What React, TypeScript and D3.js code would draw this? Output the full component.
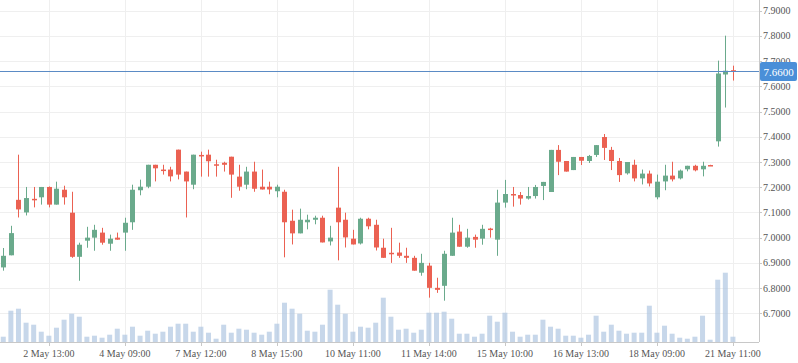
import * as d3 from 'd3';
import React from 'react';

// candle data, one entry per bar (index based x axis)
const opens = [
  6.882, 6.93, 7.15, 7.1, 7.154, 7.16, 7.201, 7.131, 7.19, 7.099,
  6.924, 6.988, 7.0, 7.02, 6.976, 7.0, 7.02, 7.061, 7.188, 7.202,
  7.289, 7.27, 7.27, 7.349, 7.262, 7.21, 7.328, 7.329, 7.291, 7.297,
  7.321, 7.242, 7.21, 7.262, 7.202, 7.202, 7.184, 7.182, 7.067, 7.017,
  7.061, 7.071, 7.079, 6.985, 7.119, 7.071, 6.996, 6.977, 7.075, 7.051,
  6.96, 6.94, 6.941, 6.928, 6.92, 6.861, 6.889, 6.801, 6.809, 6.928,
  7.024, 6.964, 7.003, 6.996, 7.036, 6.992, 7.139, 7.173, 7.169, 7.155,
  7.165, 7.205, 7.181, 7.348, 7.304, 7.268, 7.32, 7.304, 7.328, 7.399,
  7.348, 7.304, 7.255, 7.289, 7.235, 7.254, 7.16, 7.223, 7.246, 7.235,
  7.271, 7.285, 7.271, 7.288, 7.382, 7.647, 7.664,
];
const highs = [
  6.959, 7.047, 7.329, 7.201, 7.201, 7.201, 7.203, 7.222, 7.206, 7.182,
  6.98, 7.043, 7.051, 7.039, 7.012, 7.02, 7.079, 7.21, 7.23, 7.289,
  7.289, 7.289, 7.281, 7.349, 7.262, 7.329, 7.341, 7.349, 7.309, 7.301,
  7.321, 7.289, 7.281, 7.301, 7.27, 7.222, 7.21, 7.19, 7.111, 7.115,
  7.091, 7.087, 7.087, 7.047, 7.281, 7.099, 7.031, 7.079, 7.079, 7.071,
  6.996, 7.039, 6.98, 6.96, 6.928, 6.936, 6.9, 6.841, 6.948, 7.079,
  7.051, 7.035, 7.012, 7.051, 7.039, 7.19, 7.229, 7.201, 7.181, 7.201,
  7.209, 7.221, 7.348, 7.367, 7.304, 7.32, 7.32, 7.328, 7.367, 7.411,
  7.36, 7.316, 7.3, 7.309, 7.27, 7.266, 7.25, 7.289, 7.301, 7.27,
  7.285, 7.289, 7.301, 7.289, 7.702, 7.801, 7.682,
];
const lows = [
  6.869, 6.93, 7.08, 7.088, 7.12, 7.131, 7.12, 7.131, 7.131, 6.92,
  6.829, 6.96, 6.948, 6.972, 6.948, 6.992, 6.948, 7.031, 7.168, 7.196,
  7.223, 7.25, 7.223, 7.231, 7.08, 7.192, 7.242, 7.242, 7.242, 7.262,
  7.158, 7.186, 7.192, 7.182, 7.191, 7.172, 7.16, 6.922, 6.973, 7.017,
  7.033, 7.053, 6.981, 6.969, 6.91, 6.961, 6.973, 6.973, 7.033, 6.949,
  6.92, 6.9, 6.92, 6.9, 6.869, 6.849, 6.762, 6.781, 6.75, 6.928,
  6.964, 6.96, 6.96, 6.972, 7.0, 6.928, 7.119, 7.123, 7.131, 7.151,
  7.155, 7.149, 7.181, 7.248, 7.262, 7.268, 7.288, 7.296, 7.32, 7.308,
  7.268, 7.221, 7.25, 7.223, 7.211, 7.203, 7.152, 7.188, 7.223, 7.231,
  7.263, 7.263, 7.243, 7.286, 7.361, 7.516, 7.623,
];
const closes = [
  6.928, 7.018, 7.112, 7.157, 7.152, 7.201, 7.131, 7.194, 7.16, 6.924,
  6.972, 7.0, 7.031, 6.98, 6.996, 6.992, 7.059, 7.19, 7.202, 7.289,
  7.275, 7.268, 7.243, 7.25, 7.223, 7.329, 7.325, 7.303, 7.289, 7.289,
  7.25, 7.202, 7.262, 7.194, 7.191, 7.191, 7.202, 7.061, 7.017, 7.071,
  7.071, 7.079, 6.981, 7.0, 7.061, 7.001, 6.973, 7.075, 7.045, 6.961,
  6.92, 6.938, 6.928, 6.92, 6.869, 6.9, 6.801, 6.793, 6.936, 7.02,
  6.964, 7.0, 6.992, 7.035, 7.033, 7.139, 7.173, 7.171, 7.155, 7.165,
  7.201, 7.221, 7.348, 7.301, 7.262, 7.32, 7.305, 7.324, 7.367, 7.356,
  7.304, 7.248, 7.3, 7.235, 7.254, 7.215, 7.222, 7.246, 7.231, 7.266,
  7.285, 7.267, 7.285, 7.287, 7.651, 7.662, 7.66,
];
const volumes = [
  53, 313, 333, 193, 173, 103, 63, 143, 223, 283,
  253, 53, 63, 43, 73, 133, 73, 153, 63, 113,
  83, 103, 153, 183, 183, 103, 153, 93, 33, 173,
  93, 133, 123, 93, 73, 103, 183, 393, 333, 283,
  113, 103, 173, 523, 373, 283, 103, 153, 143, 193,
  443, 253, 123, 133, 93, 123, 293, 293, 303, 233,
  83, 83, 53, 83, 263, 203, 293, 103, 53, 73,
  73, 223, 153, 133, 63, 63, 43, 73, 263, 103,
  173, 113, 83, 93, 93, 363, 93, 163, 83, 43,
  33, 53, 263, 23, 623, 693, 53,
];

const tickIndex = [6, 16, 26, 36, 46, 56, 66, 76, 86, 96];
const tickLabels = [
  '2 May 13:00', '4 May 09:00', '7 May 12:00', '8 May 15:00', '10 May 11:00',
  '11 May 14:00', '15 May 10:00', '16 May 13:00', '18 May 09:00', '21 May 11:00',
];
const priceTicks = [6.7, 6.8, 6.9, 7.0, 7.1, 7.2, 7.3, 7.4, 7.5, 7.6, 7.7, 7.8, 7.9];
const lastPrice = 7.66;

const W = 798;
const H = 363;
const plotRight = 759;
const plotBottom = 342;
const green = '#6aaa8c';
const red = '#eb6152';
const font = '"Liberation Serif", "Times New Roman", serif';

export default function App() {
  const x = d3.scaleLinear().domain([-0.43, 99.43]).range([0, plotRight]);
  const y = d3.scaleLinear().domain([6.7, 7.9]).range([313.3, 10.7]);
  const yVol = d3.scaleLinear().domain([0, 1000]).range([plotBottom, plotBottom - 100]);

  const bodyW = 5;
  const yLast = Math.round(y(lastPrice)) + 0.5;

  return (
    <div style={{ position: 'absolute', left: 0, top: 0 }}>
      <svg width={W} height={H} style={{ display: 'block' }}>
        <rect width={W} height={H} fill="#fff" />
        {/* grid */}
        {priceTicks.map((p) => (
          <line
            key={p}
            x1={0}
            x2={plotRight}
            y1={Math.round(y(p)) + 0.5}
            y2={Math.round(y(p)) + 0.5}
            stroke="#efefef"
          />
        ))}
        {tickIndex.map((t) => (
          <line
            key={t}
            x1={Math.round(x(t)) + 0.5}
            x2={Math.round(x(t)) + 0.5}
            y1={0}
            y2={plotBottom}
            stroke="#efefef"
          />
        ))}

        {/* volume */}
        {volumes.map((v, i) => (
          <rect
            key={'v' + i}
            x={x(i) - bodyW / 2}
            y={yVol(v)}
            width={bodyW}
            height={plotBottom - yVol(v)}
            fill="#a9c2de"
            opacity={0.65}
          />
        ))}

        {/* candles */}
        {opens.map((o, i) => {
          const c = closes[i];
          const up = c >= o;
          const col = up ? green : red;
          const top = y(Math.max(o, c));
          const bot = y(Math.min(o, c));
          const cx = Math.round(x(i)) + 0.5;
          return (
            <g key={'c' + i}>
              <line x1={cx} x2={cx} y1={y(highs[i])} y2={y(lows[i])} stroke={col} strokeWidth={1} />
              <rect
                x={cx - bodyW / 2}
                y={top}
                width={bodyW}
                height={Math.max(1.5, bot - top)}
                fill={col}
              />
            </g>
          );
        })}

        {/* last price line */}
        <line x1={0} x2={plotRight} y1={yLast} y2={yLast} stroke="#5b8bc5" strokeWidth={1} />

        {/* axes */}
        <line x1={0} x2={plotRight} y1={plotBottom + 0.5} y2={plotBottom + 0.5} stroke="#c8c8c8" />
        <line x1={plotRight + 0.5} x2={plotRight + 0.5} y1={0} y2={plotBottom} stroke="#c8c8c8" />
        {tickIndex.map((t, k) => (
          <g key={'xt' + t}>
            <line
              x1={Math.round(x(t)) + 0.5}
              x2={Math.round(x(t)) + 0.5}
              y1={plotBottom}
              y2={plotBottom + 4}
              stroke="#c8c8c8"
            />
            <text
              x={x(t)}
              y={356.5}
              textAnchor="middle"
              fontFamily={font}
              fontSize={10}
              fill="#555"
            >
              {tickLabels[k]}
            </text>
          </g>
        ))}
        {priceTicks.map((p) => (
          <g key={'yt' + p}>
            <line
              x1={plotRight}
              x2={plotRight + 3}
              y1={Math.round(y(p)) + 0.5}
              y2={Math.round(y(p)) + 0.5}
              stroke="#c8c8c8"
            />
            <text x={763} y={y(p) + 3.5} fontFamily={font} fontSize={10} fill="#555">
              {p.toFixed(4)}
            </text>
          </g>
        ))}

        {/* last price label */}
        <rect x={760} y={yLast - 9.5} width={37} height={19} rx={2} fill="#4a8fd8" />
        <text
          x={778.5}
          y={yLast + 4}
          textAnchor="middle"
          fontFamily={font}
          fontSize={11}
          fill="#fff"
        >
          {lastPrice.toFixed(4)}
        </text>
      </svg>
    </div>
  );
}
